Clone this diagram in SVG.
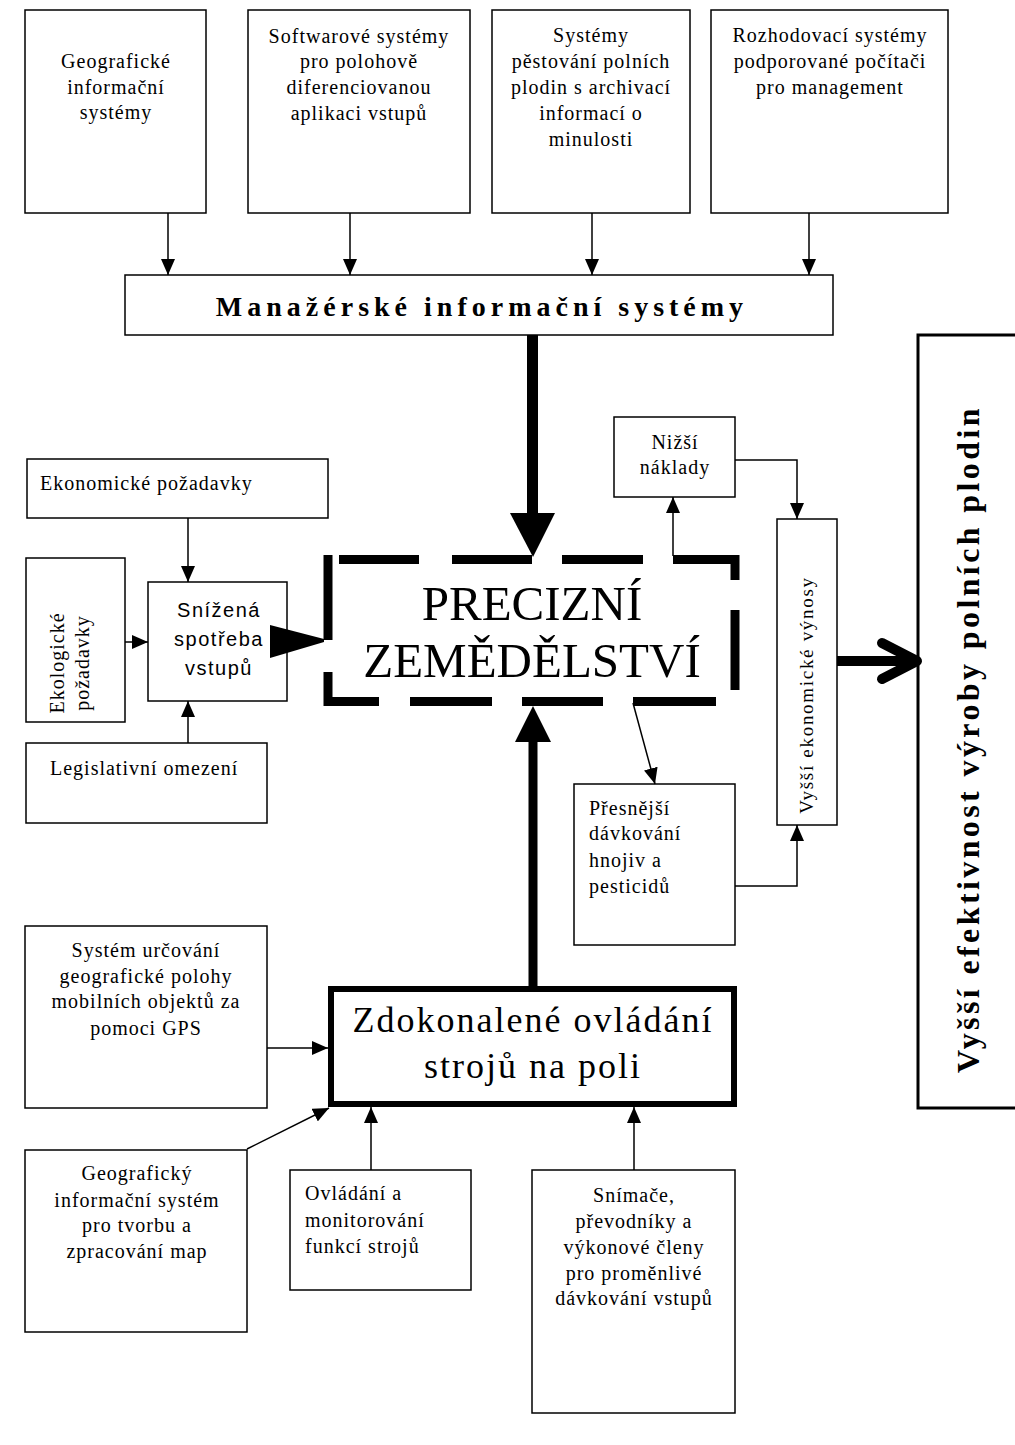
<svg xmlns="http://www.w3.org/2000/svg" width="1015" height="1445" viewBox="0 0 1015 1445">
  <style>
    .box { fill: #fff; stroke: #000; stroke-width: 1.5; }
    .t { font-family: "Liberation Serif", "Times New Roman", serif; font-size: 20px; letter-spacing: 1px; fill: #000; }
    .c { text-anchor: middle; }
    .sans { font-family: "Liberation Sans", Arial, sans-serif; font-size: 20px; letter-spacing: 1.5px; fill: #000; text-anchor: middle; }
    .thin { fill: none; stroke: #000; stroke-width: 1.5; marker-end: url(#ah); }
    .dash { fill: none; stroke: #000; stroke-width: 9; stroke-linecap: butt; stroke-linejoin: miter; }
  </style>
  <defs>
    <marker id="ah" markerUnits="userSpaceOnUse" markerWidth="16" markerHeight="14" refX="16" refY="7" orient="auto">
      <path d="M0,0 L16,7 L0,14 z" fill="#000"/>
    </marker>
  </defs>
  <rect width="1015" height="1445" fill="#fff"/>

  <!-- top row of source systems -->
  <g id="gis">
    <rect class="box" x="25" y="10" width="181" height="203"/>
    <text class="t c" x="116" y="68">Geografické</text>
    <text class="t c" x="116" y="94">informační</text>
    <text class="t c" x="116" y="119">systémy</text>
  </g>
  <g id="software">
    <rect class="box" x="248" y="10" width="222" height="203"/>
    <text class="t c" x="359" y="43">Softwarové systémy</text>
    <text class="t c" x="359" y="68">pro polohově</text>
    <text class="t c" x="359" y="94">diferenciovanou</text>
    <text class="t c" x="359" y="120">aplikaci vstupů</text>
  </g>
  <g id="pestovani">
    <rect class="box" x="492" y="10" width="198" height="203"/>
    <text class="t c" x="591" y="42">Systémy</text>
    <text class="t c" x="591" y="68">pěstování polních</text>
    <text class="t c" x="591" y="94">plodin s archivací</text>
    <text class="t c" x="591" y="120">informací o</text>
    <text class="t c" x="591" y="146">minulosti</text>
  </g>
  <g id="rozhodovaci">
    <rect class="box" x="711" y="10" width="237" height="203"/>
    <text class="t c" x="830" y="42">Rozhodovací systémy</text>
    <text class="t c" x="830" y="68">podporované počítači</text>
    <text class="t c" x="830" y="94">pro management</text>
  </g>

  <g id="manazerske">
    <rect class="box" x="125" y="275" width="708" height="60"/>
    <text x="482" y="316" text-anchor="middle" font-family="Liberation Serif, serif" font-weight="bold" font-size="28" letter-spacing="5">Manažérské informační systémy</text>
  </g>

  <!-- central node: dashed heavy frame -->
  <g id="precizni">
    <path class="dash" d="M339 559.5 H419 M452 559.5 H532 M562 559.5 H643"/>
    <path class="dash" d="M673 559.5 H735 V580"/>
    <path class="dash" d="M735 610 V690"/>
    <path class="dash" d="M633 701.5 H716 M522 701.5 H603 M410 701.5 H492"/>
    <path class="dash" d="M379 701.5 H328 V672"/>
    <path class="dash" d="M328 555 V640"/>
    <text x="532" y="620" text-anchor="middle" font-family="Liberation Serif, serif" font-size="49">PRECIZNÍ</text>
    <text x="532" y="677" text-anchor="middle" font-family="Liberation Serif, serif" font-size="49">ZEMĚDĚLSTVÍ</text>
  </g>

  <!-- left group -->
  <g id="ekonomicke">
    <rect class="box" x="27" y="459" width="301" height="59"/>
    <text class="t" x="40" y="490">Ekonomické požadavky</text>
  </g>
  <g id="ekologicke">
    <rect class="box" x="26" y="558" width="99" height="164"/>
    <text class="t c" transform="translate(64,663) rotate(-90)">Ekologické</text>
    <text class="t c" transform="translate(89,663) rotate(-90)">požadavky</text>
  </g>
  <g id="snizena">
    <rect class="box" x="148" y="582" width="139" height="119"/>
    <text class="sans" x="219" y="617">Snížená</text>
    <text class="sans" x="219" y="646">spotřeba</text>
    <text class="sans" x="219" y="675">vstupů</text>
  </g>
  <g id="legislativni">
    <rect class="box" x="26" y="743" width="241" height="80"/>
    <text class="t" x="50" y="775">Legislativní omezení</text>
  </g>

  <!-- right group -->
  <g id="nizsi">
    <rect class="box" x="614" y="417" width="121" height="80"/>
    <text class="t c" x="675" y="449">Nižší</text>
    <text class="t c" x="675" y="474">náklady</text>
  </g>
  <g id="vyssi-vynosy">
    <rect class="box" x="777" y="519" width="60" height="306"/>
    <text class="t c" transform="translate(813,695) rotate(-90)" style="font-size:19px;letter-spacing:1.7px">Vyšší ekonomické výnosy</text>
  </g>
  <g id="presnejsi">
    <rect class="box" x="574" y="784" width="161" height="161"/>
    <text class="t" x="589" y="815">Přesnější</text>
    <text class="t" x="589" y="840">dávkování</text>
    <text class="t" x="589" y="867">hnojiv a</text>
    <text class="t" x="589" y="893">pesticidů</text>
  </g>
  <g id="efektivnost">
    <rect x="918" y="335" width="120" height="773" fill="#fff" stroke="#000" stroke-width="3"/>
    <text transform="translate(979,739) rotate(-90)" text-anchor="middle" font-family="Liberation Serif, serif" font-weight="bold" font-size="32" letter-spacing="3.4">Vyšší efektivnost výroby polních plodin</text>
  </g>

  <!-- bottom group -->
  <g id="zdokonalene">
    <rect x="331" y="989" width="403" height="115" fill="#fff" stroke="#000" stroke-width="6"/>
    <text x="533" y="1032" text-anchor="middle" font-family="Liberation Serif, serif" font-size="36" letter-spacing="2">Zdokonalené ovládání</text>
    <text x="533" y="1078" text-anchor="middle" font-family="Liberation Serif, serif" font-size="36" letter-spacing="2">strojů na poli</text>
  </g>
  <g id="gps">
    <rect class="box" x="25" y="926" width="242" height="182"/>
    <text class="t c" x="146" y="957">Systém určování</text>
    <text class="t c" x="146" y="983">geografické polohy</text>
    <text class="t c" x="146" y="1008">mobilních objektů za</text>
    <text class="t c" x="146" y="1035">pomoci GPS</text>
  </g>
  <g id="gis-mapy">
    <rect class="box" x="25" y="1150" width="222" height="182"/>
    <text class="t c" x="137" y="1180">Geografický</text>
    <text class="t c" x="137" y="1207">informační systém</text>
    <text class="t c" x="137" y="1232">pro tvorbu a</text>
    <text class="t c" x="137" y="1258">zpracování map</text>
  </g>
  <g id="ovladani">
    <rect class="box" x="290" y="1170" width="181" height="120"/>
    <text class="t" x="305" y="1200">Ovládání a</text>
    <text class="t" x="305" y="1227">monitorování</text>
    <text class="t" x="305" y="1253">funkcí strojů</text>
  </g>
  <g id="snimace">
    <rect class="box" x="532" y="1170" width="203" height="243"/>
    <text class="t c" x="634" y="1202">Snímače,</text>
    <text class="t c" x="634" y="1228">převodníky a</text>
    <text class="t c" x="634" y="1254">výkonové členy</text>
    <text class="t c" x="634" y="1280">pro proměnlivé</text>
    <text class="t c" x="634" y="1305">dávkování vstupů</text>
  </g>

  <!-- connectors -->
  <g id="connectors">
    <path class="thin" d="M168 213 V275"/>
    <path class="thin" d="M350 213 V275"/>
    <path class="thin" d="M592 213 V275"/>
    <path class="thin" d="M809 213 V275"/>

    <line x1="532.5" y1="335" x2="532.5" y2="515" stroke="#000" stroke-width="11"/>
    <polygon points="510,513 555,513 533,557" fill="#000"/>

    <path class="thin" d="M188 518 V582"/>
    <path class="thin" d="M125 642 H148"/>
    <path class="thin" d="M188 743 V701"/>
    <polygon points="270,625 324,639 324,642 270,658" fill="#000"/>

    <path class="thin" d="M673 556 V497"/>
    <path class="thin" d="M735 460 H797 V519"/>
    <path class="thin" d="M633 703 L655 784"/>
    <path class="thin" d="M735 886 H797 V825"/>

    <line x1="837" y1="661" x2="914" y2="661" stroke="#000" stroke-width="10"/>
    <path d="M882 643 L917 661 L882 679" fill="none" stroke="#000" stroke-width="10" stroke-linecap="round" stroke-linejoin="round"/>

    <line x1="533" y1="986" x2="533" y2="740" stroke="#000" stroke-width="9"/>
    <polygon points="515,742 551,742 533,706" fill="#000"/>

    <path class="thin" d="M267 1048 H328"/>
    <path class="thin" d="M247 1149 L329 1108"/>
    <path class="thin" d="M371 1170 V1107"/>
    <path class="thin" d="M634 1170 V1107"/>
  </g>
</svg>
